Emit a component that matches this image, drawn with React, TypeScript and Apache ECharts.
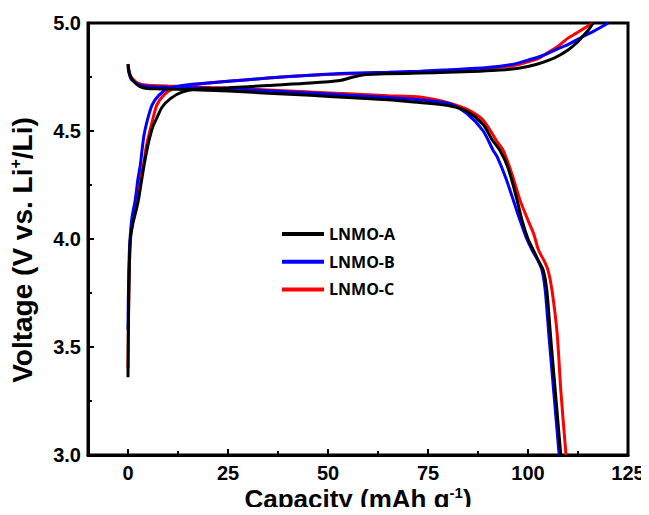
import React, { useEffect, useRef } from "react";
import * as echarts from "echarts";

// Sample A (black)
const aChargeCap = [0, 0.1, 0.3, 0.6, 1.2, 2.0, 2.6, 3.3, 4.0, 4.6, 5.3, 6.2, 7.2, 8.5, 10.6, 13.5, 18, 25, 35, 45.6, 53, 56.3, 59.7, 65, 73, 80, 88, 93, 98, 102, 105.6, 108, 110, 112, 113.5, 115, 116.3];
const aChargeV = [3.36, 3.6, 3.85, 4.0, 4.07, 4.13, 4.18, 4.26, 4.34, 4.4, 4.46, 4.52, 4.56, 4.61, 4.65, 4.68, 4.695, 4.7, 4.711, 4.722, 4.734, 4.75, 4.761, 4.765, 4.768, 4.772, 4.777, 4.782, 4.792, 4.808, 4.83, 4.852, 4.875, 4.905, 4.935, 4.965, 5.0];
const aDisCap = [0, 0.3, 0.8, 1.8, 3, 4.7, 8, 12, 18, 25, 35, 45.6, 55, 65, 73, 80.6, 84.8, 88.8, 91, 93, 95, 97, 98.5, 100, 101.3, 102.6, 103.8, 104.7, 105.6, 106.8, 108.2];
const aDisV = [4.81, 4.77, 4.745, 4.722, 4.705, 4.697, 4.695, 4.693, 4.69, 4.685, 4.675, 4.665, 4.655, 4.645, 4.632, 4.616, 4.59, 4.53, 4.46, 4.41, 4.33, 4.2, 4.087, 4.0, 3.95, 3.9, 3.856, 3.763, 3.56, 3.3, 3.0];

// Sample B (blue)
const bChargeCap = [0, 0.1, 0.3, 0.5, 1.0, 1.8, 2.5, 3.1, 3.5, 4.0, 4.7, 6.0, 7.7, 10, 14, 18, 25, 35, 45.6, 55, 65, 73, 80, 87, 93, 97, 100, 103, 105.6, 108, 110, 113, 116, 118, 120];
const bChargeV = [3.58, 3.75, 3.92, 4.0, 4.1, 4.18, 4.28, 4.345, 4.41, 4.48, 4.54, 4.62, 4.665, 4.696, 4.712, 4.719, 4.73, 4.745, 4.758, 4.767, 4.772, 4.777, 4.783, 4.79, 4.8, 4.812, 4.828, 4.845, 4.865, 4.885, 4.9, 4.93, 4.958, 4.978, 5.0];
const bDisCap = [0, 0.3, 0.8, 1.8, 3, 5, 10, 18, 25, 35, 45.6, 55, 65, 73, 80.6, 84.8, 88.8, 91.3, 92.3, 94.5, 96.5, 98, 99.5, 101, 102.5, 103.5, 104.3, 105.2, 106.4, 107.8];
const bDisV = [4.8, 4.765, 4.74, 4.725, 4.712, 4.706, 4.703, 4.699, 4.695, 4.686, 4.676, 4.666, 4.655, 4.645, 4.625, 4.58, 4.5, 4.41, 4.38, 4.28, 4.17, 4.087, 4.01, 3.95, 3.9, 3.856, 3.763, 3.56, 3.3, 3.0];

// Sample C (red)
const cChargeCap = [0, 0.1, 0.3, 0.6, 1.1, 2.0, 2.7, 3.3, 3.9, 4.6, 6.0, 7.2, 8.9, 11.3, 15, 18, 25, 35, 45.6, 55, 65, 73, 80, 87, 93, 97, 100, 103, 105.6, 108, 110, 112, 114, 116.3];
const cChargeV = [3.4, 3.6, 3.85, 4.0, 4.08, 4.16, 4.23, 4.3, 4.345, 4.43, 4.54, 4.62, 4.665, 4.696, 4.712, 4.719, 4.73, 4.745, 4.758, 4.765, 4.77, 4.775, 4.78, 4.787, 4.795, 4.805, 4.82, 4.84, 4.87, 4.9, 4.93, 4.952, 4.975, 5.0];
const cDisCap = [0, 0.3, 0.8, 1.8, 3, 5, 10, 18, 25, 35, 45.6, 55, 65, 73, 80.6, 84.8, 88.8, 92.3, 93.8, 96, 98, 100, 101.5, 102.6, 104, 105, 106, 107.3, 108.2, 109.5];
const cDisV = [4.81, 4.775, 4.75, 4.73, 4.718, 4.712, 4.708, 4.703, 4.698, 4.69, 4.68, 4.672, 4.663, 4.657, 4.628, 4.6, 4.55, 4.45, 4.41, 4.3, 4.18, 4.087, 4.02, 3.95, 3.9, 3.856, 3.763, 3.56, 3.3, 3.0];

const seriesNames = ["LNMO-A", "LNMO-B", "LNMO-C"];
const seriesColors = ["#000000", "#0000ff", "#ff0000"];
const xMajorTicks = [0, 25, 50, 75, 100, 125];
const xMinorTicks = [12.5, 37.5, 62.5, 87.5, 112.5];

const zip = (xs: number[], ys: number[]) => xs.map((x, i) => [x, ys[i]]);

export default function App() {
  const ref = useRef<HTMLDivElement>(null);
  useEffect(() => {
    if (!ref.current) return;
    const chart = echarts.init(ref.current, undefined, { renderer: "svg" });
    const curves = [
      { name: seriesNames[2], color: seriesColors[2], data: zip(cChargeCap, cChargeV) },
      { name: seriesNames[2], color: seriesColors[2], data: zip(cDisCap, cDisV) },
      { name: seriesNames[1], color: seriesColors[1], data: zip(bChargeCap, bChargeV) },
      { name: seriesNames[1], color: seriesColors[1], data: zip(bDisCap, bDisV) },
      { name: seriesNames[0], color: seriesColors[0], data: zip(aChargeCap, aChargeV) },
      { name: seriesNames[0], color: seriesColors[0], data: zip(aDisCap, aDisV) },
    ];
    const font = "'Liberation Sans', Arial, Helvetica, sans-serif";
    const xTitleRich = {
      a: { fontFamily: font, fontWeight: "bold", fontSize: 26, color: "#000", lineHeight: 28 },
      s: { fontFamily: font, fontWeight: "bold", fontSize: 15, color: "#000", lineHeight: 28, verticalAlign: "top" },
    };
    const yTitleRich = {
      a: { fontFamily: font, fontWeight: "bold", fontSize: 28, color: "#000", lineHeight: 30 },
      s: { fontFamily: font, fontWeight: "bold", fontSize: 16, color: "#000", lineHeight: 30, verticalAlign: "top" },
    };
    chart.setOption({
      animation: false,
      grid: {
        left: 88,
        right: 21,
        top: 23,
        bottom: 60,
        show: true,
        borderColor: "#000",
        borderWidth: 3,
        backgroundColor: "transparent",
        containLabel: false,
        outerBoundsMode: "none",
      },
      legend: {
        data: seriesNames,
        orient: "vertical",
        left: 277,
        top: 220,
        icon: "rect",
        itemWidth: 42,
        itemHeight: 4,
        itemGap: 9.7,
        textStyle: {
          fontFamily: "'Open Sans', sans-serif",
          fontWeight: "bold",
          fontSize: 16,
          lineHeight: 18,
          color: "#000",
        },
      },
      xAxis: [
        {
          type: "value",
          min: -10,
          max: 125,
          position: "bottom",
          splitLine: { show: false },
          axisLine: { show: true, onZero: false, lineStyle: { color: "#000", width: 3 } },
          axisTick: {
            show: true,
            inside: true,
            length: 6,
            customValues: xMajorTicks,
            lineStyle: { color: "#000", width: 2 },
          },
          axisLabel: {
            customValues: xMajorTicks,
            color: "#000",
            fontFamily: font,
            fontWeight: "bold",
            fontSize: 20,
            margin: 8,
          },
          name: "{a|Capacity (mAh g}{s|-1}{a|)}",
          nameLocation: "middle",
          nameGap: 44,
          nameMoveOverlap: false,
          nameTextStyle: { verticalAlign: "middle", rich: xTitleRich },
        },
        {
          type: "value",
          min: -10,
          max: 125,
          position: "bottom",
          splitLine: { show: false },
          axisLine: { show: false, onZero: false },
          axisLabel: { show: false },
          axisTick: {
            show: true,
            inside: true,
            length: 4,
            customValues: xMinorTicks,
            lineStyle: { color: "#000", width: 2 },
          },
        },
      ],
      yAxis: {
        type: "value",
        min: 3,
        max: 5,
        interval: 0.5,
        position: "left",
        splitLine: { show: false },
        axisLine: { show: true, onZero: false, lineStyle: { color: "#000", width: 3 } },
        axisTick: { show: true, inside: true, length: 6, lineStyle: { color: "#000", width: 2 } },
        minorTick: { show: true, splitNumber: 2, length: 4, lineStyle: { color: "#000", width: 2 } },
        minorSplitLine: { show: false },
        axisLabel: {
          color: "#000",
          fontFamily: font,
          fontWeight: "bold",
          fontSize: 20,
          margin: 7,
          formatter: (v: number) => v.toFixed(1),
        },
        name: "{a|Voltage (V vs. Li}{s|+}{a|/Li)}",
        nameLocation: "middle",
        nameGap: 66,
        nameMoveOverlap: false,
        nameTextStyle: { verticalAlign: "middle", padding: [0, 22, 0, 0], rich: yTitleRich },
      },
      series: curves.map((c) => ({
        type: "line",
        name: c.name,
        data: c.data,
        xAxisIndex: 0,
        yAxisIndex: 0,
        showSymbol: false,
        symbol: "none",
        smooth: 0.25,
        clip: true,
        lineStyle: { color: c.color, width: 3 },
        itemStyle: { color: c.color },
      })),
    });
    return () => chart.dispose();
  }, []);
  return <div ref={ref} style={{ width: 649, height: 515, margin: -8 }} />;
}
